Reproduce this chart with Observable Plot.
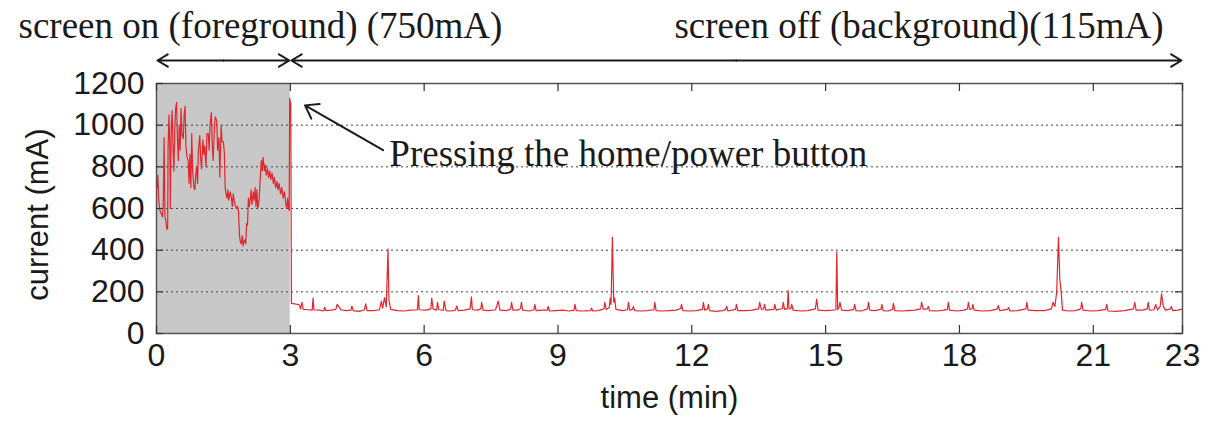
<!DOCTYPE html>
<html>
<head>
<meta charset="utf-8">
<script src="https://cdn.jsdelivr.net/npm/d3@7"></script>
<script src="https://cdn.jsdelivr.net/npm/@observablehq/plot@0.6"></script>
<style>
  html, body { margin: 0; padding: 0; background: #ffffff; }
</style>
</head>
<body>
<div id="chart"></div>
<script>
// ---------- data ----------
const xTicks = [0, 3, 6, 9, 12, 15, 18, 21, 23];
const yTicks = [0, 200, 400, 600, 800, 1000, 1200];
const gridValues = [200, 400, 600, 800, 1000];
const foregroundSpan = [{start: 0, end: 3}];

const xLabel = "time (min)";
const yLabel = "current (mA)";
const titleOn = "screen on (foreground) (750mA)";
const titleOff = "screen off (background)(115mA)";
const calloutText = "Pressing the home/power button";

// [time (min), current (mA)] — screen on, foreground
const screenOn = [
  [0.00, 740], [0.02, 700], [0.03, 760], [0.05, 640], [0.07, 600], [0.09, 580], [0.11, 575],
  [0.13, 560], [0.15, 600], [0.17, 940], [0.19, 560], [0.21, 540], [0.23, 500], [0.25, 505],
  [0.26, 900], [0.28, 1050], [0.30, 880], [0.31, 600], [0.33, 980], [0.35, 1070], [0.37, 900],
  [0.39, 780], [0.41, 980], [0.43, 1080], [0.45, 1110], [0.47, 930], [0.49, 830], [0.51, 1000],
  [0.53, 880], [0.55, 1080], [0.57, 960], [0.60, 935], [0.62, 1050], [0.64, 1090], [0.66, 900],
  [0.68, 850], [0.71, 830], [0.73, 720], [0.75, 860], [0.77, 700], [0.79, 960], [0.81, 780],
  [0.84, 700], [0.86, 690], [0.88, 760], [0.90, 800], [0.92, 720], [0.94, 880], [0.97, 950],
  [0.99, 840], [1.01, 790], [1.04, 930], [1.06, 860], [1.08, 900], [1.11, 800], [1.13, 960],
  [1.16, 960], [1.18, 880], [1.20, 1000], [1.23, 1060], [1.25, 900], [1.27, 830], [1.30, 1000],
  [1.32, 1040], [1.35, 1020], [1.37, 880], [1.40, 940], [1.42, 750], [1.45, 1000], [1.47, 920],
  [1.50, 920], [1.52, 870], [1.54, 700], [1.56, 670], [1.58, 650], [1.60, 690], [1.62, 640],
  [1.65, 680], [1.68, 650], [1.70, 610], [1.72, 670], [1.74, 640], [1.76, 620], [1.79, 600],
  [1.82, 610], [1.84, 580], [1.86, 470], [1.88, 440], [1.90, 430], [1.92, 470], [1.94, 420],
  [1.96, 440], [1.98, 450], [2.00, 430], [2.02, 528], [2.04, 520], [2.06, 650], [2.08, 610],
  [2.10, 640], [2.12, 690], [2.14, 620], [2.17, 680], [2.19, 640], [2.21, 700], [2.23, 610],
  [2.25, 690], [2.27, 600], [2.30, 640], [2.33, 760], [2.35, 830], [2.37, 780], [2.39, 846],
  [2.42, 780], [2.44, 810], [2.46, 760], [2.49, 790], [2.51, 750], [2.54, 780], [2.56, 740],
  [2.59, 770], [2.62, 720], [2.64, 750], [2.67, 700], [2.70, 730], [2.72, 690], [2.75, 720],
  [2.78, 670], [2.81, 700], [2.84, 650], [2.87, 680], [2.90, 620], [2.92, 600], [2.94, 650],
  [2.96, 600], [2.975, 590], [2.985, 1130]
];

// [time (min), current (mA)] — screen off, background
const screenOff = [
  [3.01, 1100], [3.025, 145], [3.1, 142], [3.2, 138], [3.23, 118], [3.26, 150], [3.29, 116],
  [3.4, 114], [3.49, 112], [3.51, 170], [3.53, 114], [3.65, 112], [3.75, 108], [3.77, 126],
  [3.8, 110], [3.92, 112], [4.02, 116], [4.05, 140], [4.09, 128], [4.13, 114], [4.25, 110],
  [4.36, 112], [4.38, 132], [4.41, 110], [4.55, 106], [4.66, 114], [4.69, 142], [4.72, 110],
  [4.86, 110], [5.0, 114], [5.04, 155], [5.07, 122], [5.11, 172], [5.15, 128], [5.19, 405],
  [5.21, 160], [5.25, 116], [5.4, 110], [5.55, 108], [5.7, 112], [5.85, 114], [5.87, 182],
  [5.89, 114], [6.05, 112], [6.15, 118], [6.17, 170], [6.2, 118], [6.28, 112], [6.3, 150],
  [6.33, 114], [6.43, 112], [6.45, 156], [6.49, 110], [6.6, 108], [6.7, 112], [6.73, 132],
  [6.76, 110], [6.9, 112], [7.03, 118], [7.06, 176], [7.08, 114], [7.2, 112], [7.27, 118],
  [7.29, 150], [7.32, 112], [7.45, 110], [7.6, 114], [7.66, 155], [7.7, 112], [7.85, 110],
  [7.94, 118], [7.96, 150], [7.99, 112], [8.1, 112], [8.16, 120], [8.18, 150], [8.21, 112],
  [8.35, 108], [8.46, 114], [8.48, 140], [8.51, 110], [8.65, 112], [8.76, 112], [8.78, 130],
  [8.81, 108], [8.95, 110], [9.1, 112], [9.25, 108], [9.36, 112], [9.38, 140], [9.41, 110],
  [9.55, 108], [9.73, 110], [9.75, 122], [9.78, 108], [9.9, 110], [10.03, 118], [10.05, 150],
  [10.08, 115], [10.15, 125], [10.17, 170], [10.19, 140], [10.22, 462], [10.25, 150],
  [10.27, 170], [10.3, 116], [10.45, 110], [10.56, 114], [10.58, 150], [10.61, 112],
  [10.67, 116], [10.69, 130], [10.72, 110], [10.85, 108], [11.0, 110], [11.15, 114],
  [11.17, 150], [11.2, 110], [11.35, 108], [11.5, 110], [11.65, 112], [11.75, 120],
  [11.77, 140], [11.8, 110], [11.95, 108], [12.1, 110], [12.24, 116], [12.26, 150],
  [12.29, 112], [12.35, 118], [12.37, 140], [12.4, 110], [12.55, 106], [12.7, 110],
  [12.76, 116], [12.78, 130], [12.81, 108], [12.98, 116], [13.0, 140], [13.03, 110],
  [13.2, 110], [13.35, 112], [13.5, 118], [13.52, 150], [13.56, 116], [13.61, 118],
  [13.63, 140], [13.66, 112], [13.84, 116], [13.86, 140], [13.89, 112], [14.03, 120],
  [14.05, 150], [14.08, 116], [14.14, 118], [14.16, 206], [14.18, 118], [14.22, 120],
  [14.24, 140], [14.27, 112], [14.45, 108], [14.6, 110], [14.77, 118], [14.8, 165],
  [14.83, 112], [15.0, 110], [15.15, 112], [15.23, 114], [15.25, 392], [15.27, 114],
  [15.3, 125], [15.32, 150], [15.36, 112], [15.5, 110], [15.63, 116], [15.65, 140],
  [15.68, 110], [15.8, 108], [15.94, 118], [15.96, 150], [15.99, 112], [16.1, 110],
  [16.24, 116], [16.26, 140], [16.29, 110], [16.4, 108], [16.5, 116], [16.52, 145],
  [16.55, 110], [16.7, 108], [16.85, 110], [17.0, 112], [17.13, 118], [17.15, 150],
  [17.19, 116], [17.28, 118], [17.3, 130], [17.33, 110], [17.5, 108], [17.65, 112],
  [17.73, 116], [17.75, 150], [17.78, 112], [17.95, 108], [18.1, 112], [18.18, 118],
  [18.2, 150], [18.23, 116], [18.28, 118], [18.3, 140], [18.33, 112], [18.5, 108],
  [18.7, 110], [18.85, 118], [18.87, 135], [18.9, 110], [19.08, 116], [19.1, 125],
  [19.13, 108], [19.3, 110], [19.49, 118], [19.51, 150], [19.54, 112], [19.7, 110],
  [19.9, 110], [20.06, 118], [20.1, 150], [20.14, 130], [20.18, 200], [20.22, 462],
  [20.25, 260], [20.28, 200], [20.31, 112], [20.45, 108], [20.6, 110], [20.72, 118],
  [20.74, 150], [20.77, 112], [20.95, 108], [21.1, 110], [21.28, 116], [21.3, 140],
  [21.33, 108], [21.5, 106], [21.7, 110], [21.9, 118], [21.93, 150], [21.96, 112],
  [22.1, 112], [22.21, 118], [22.23, 150], [22.26, 112], [22.36, 114], [22.4, 140],
  [22.44, 112], [22.5, 130], [22.53, 190], [22.57, 130], [22.62, 112], [22.73, 118],
  [22.75, 130], [22.78, 110], [22.9, 112], [23.0, 118]
];

// phase arrows above the plot (double-headed: two halves from a midpoint)
const phaseArrows = [
  {from: 1.5, to: 0}, {from: 1.5, to: 3},
  {from: 13, to: 3}, {from: 13, to: 23}
];
const headerLevel = 1200;

// callout arrow (tail -> tip) and callout text anchor
const calloutArrow = [{x1: 5.08, y1: 880, x2: 3.33, y2: 1095}];
const calloutAnchor = [{x: 5.22, y: 862}];

// ---------- chart ----------
const trace = screenOn.concat(screenOff).map(([t, v]) => ({t, v}));
const serif = "'Liberation Serif', 'Times New Roman', serif";

const chart = Plot.plot({
  width: 1210,
  height: 429,
  marginLeft: 156,
  marginRight: 28,
  marginTop: 83,
  marginBottom: 96,
  style: {
    fontFamily: "'Liberation Sans', Arial, sans-serif",
    fontSize: "32px",
    color: "#1a1a1a",
    background: "#ffffff",
    overflow: "visible"
  },
  x: {domain: [0, 23]},
  y: {domain: [0, 1200]},
  marks: [
    Plot.rect(foregroundSpan, {x1: "start", x2: "end", y1: 0, y2: 1200, fill: "#c8c8c8"}),
    Plot.ruleY(gridValues, {stroke: "#444", strokeWidth: 1, strokeDasharray: "2,3"}),
    Plot.line(trace, {x: "t", y: "v", stroke: "#e3262d", strokeWidth: 1.2}),
    Plot.frame({stroke: "#555", strokeWidth: 1.5}),
    Plot.tickX(xTicks, {x: d => d, insetTop: 242, stroke: "#333", strokeWidth: 1.2}),
    Plot.tickX(xTicks, {x: d => d, insetBottom: 242, stroke: "#333", strokeWidth: 1.2}),
    Plot.tickY(yTicks, {y: d => d, insetRight: 1019, stroke: "#333", strokeWidth: 1.2}),
    Plot.tickY(yTicks, {y: d => d, insetLeft: 1019, stroke: "#333", strokeWidth: 1.2}),
    Plot.axisX(xTicks, {tickSize: 0, tickPadding: 10, label: null, tickFormat: d => String(d)}),
    Plot.axisY(yTicks, {tickSize: 0, tickPadding: 12, label: null, tickFormat: d => String(d)}),
    Plot.text([xLabel], {frameAnchor: "bottom", dy: 74, fontSize: 31}),
    Plot.text([yLabel], {
      frameAnchor: "left", textAnchor: "middle", lineAnchor: "middle",
      rotate: -90, dx: -118, dy: 6, fontSize: 31
    }),
    Plot.arrow(phaseArrows, {
      x1: "from", x2: "to", y1: headerLevel, y2: headerLevel, dy: -23,
      stroke: "#1a1a1a", strokeWidth: 2, headLength: 9, headAngle: 62, insetEnd: 1
    }),
    Plot.text([titleOn], {
      frameAnchor: "top-left", textAnchor: "start", lineAnchor: "bottom",
      dx: -138, dy: -46, fontFamily: serif, fontSize: 37, fill: "#1a1a1a"
    }),
    Plot.text([titleOff], {
      frameAnchor: "top-right", textAnchor: "end", lineAnchor: "bottom",
      dx: -19, dy: -46, fontFamily: serif, fontSize: 37, fill: "#1a1a1a"
    }),
    Plot.arrow(calloutArrow, {
      x1: "x1", y1: "y1", x2: "x2", y2: "y2",
      stroke: "#1a1a1a", strokeWidth: 2, headLength: 11, headAngle: 70
    }),
    Plot.text(calloutAnchor, {
      x: "x", y: "y", text: () => calloutText, textAnchor: "start", lineAnchor: "middle",
      fontFamily: serif, fontSize: 37, fill: "#1a1a1a"
    })
  ]
});

document.getElementById("chart").appendChild(chart);
</script>
</body>
</html>
